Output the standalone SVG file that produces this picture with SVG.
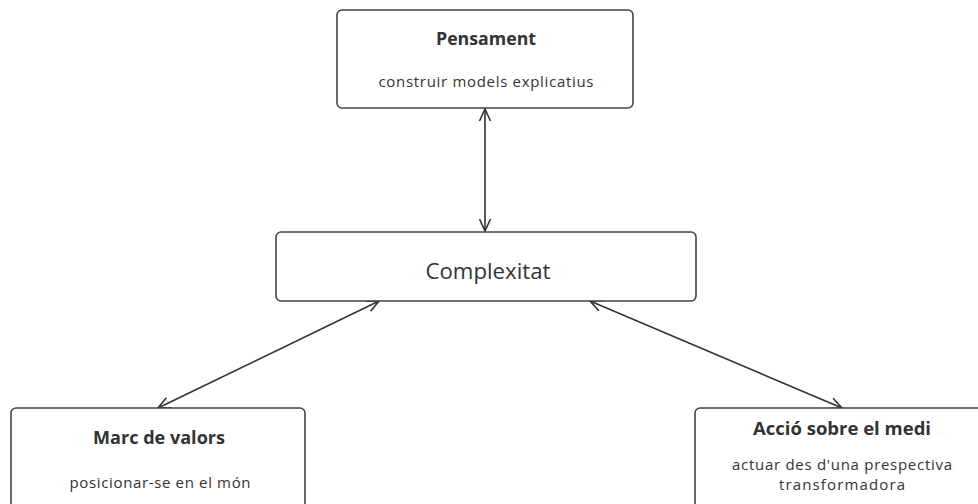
<svg xmlns="http://www.w3.org/2000/svg" width="978" height="504" viewBox="0 0 978 504">
  <defs>
    <marker id="open" viewBox="0 0 14 14" refX="13" refY="7" markerWidth="14" markerHeight="14" markerUnits="userSpaceOnUse" orient="auto-start-reverse">
      <path d="M1,1.5 L13,7 L1,12.5" fill="none" stroke="#333" stroke-width="1.6"/>
    </marker>
    <style>
      .box { fill: #fff; stroke: #444; stroke-width: 1.6; }
      .title { font-family: "Open Sans", "Noto Sans", sans-serif; font-weight: bold; fill: #333; text-anchor: middle; font-size: 17px; }
      .sub { font-family: "Open Sans", "Noto Sans", sans-serif; fill: #333; text-anchor: middle; font-size: 15px; }
      .link { stroke: #333; stroke-width: 1.6; fill: none; marker-start: url(#open); marker-end: url(#open); }
    </style>
  </defs>
  <rect width="978" height="504" fill="#fff"/>

  <g id="connectors">
    <line class="link" x1="485" y1="109" x2="485" y2="231"/>
    <line class="link" x1="379" y1="301" x2="158" y2="408"/>
    <line class="link" x1="590" y1="301" x2="842" y2="408"/>
  </g>

  <g id="pensament">
    <rect class="box" x="337" y="10" width="296" height="98" rx="5"/>
    <text class="title" x="486" y="45" textLength="100" lengthAdjust="spacingAndGlyphs">Pensament</text>
    <text class="sub" x="486" y="87" textLength="215" lengthAdjust="spacing">construir models explicatius</text>
  </g>

  <g id="complexitat">
    <rect class="box" x="276" y="232" width="420" height="69" rx="5"/>
    <text x="488" y="279" font-family="Open Sans, Noto Sans, sans-serif" font-size="22" fill="#333" text-anchor="middle" textLength="125" lengthAdjust="spacingAndGlyphs">Complexitat</text>
  </g>

  <g id="marc-valors">
    <rect class="box" x="11" y="408" width="294" height="110" rx="5"/>
    <text class="title" x="159" y="444" textLength="132" lengthAdjust="spacingAndGlyphs">Marc de valors</text>
    <text class="sub" x="160" y="488" textLength="181" lengthAdjust="spacing">posicionar-se en el món</text>
  </g>

  <g id="accio-medi">
    <rect class="box" x="695" y="408" width="300" height="110" rx="5"/>
    <text class="title" x="842" y="435" textLength="178" lengthAdjust="spacingAndGlyphs">Acció sobre el medi</text>
    <text class="sub" x="842" y="470" textLength="220" lengthAdjust="spacing">actuar des d'una prespectiva</text>
    <text class="sub" x="842" y="490" textLength="126" lengthAdjust="spacing">transformadora</text>
  </g>
</svg>
